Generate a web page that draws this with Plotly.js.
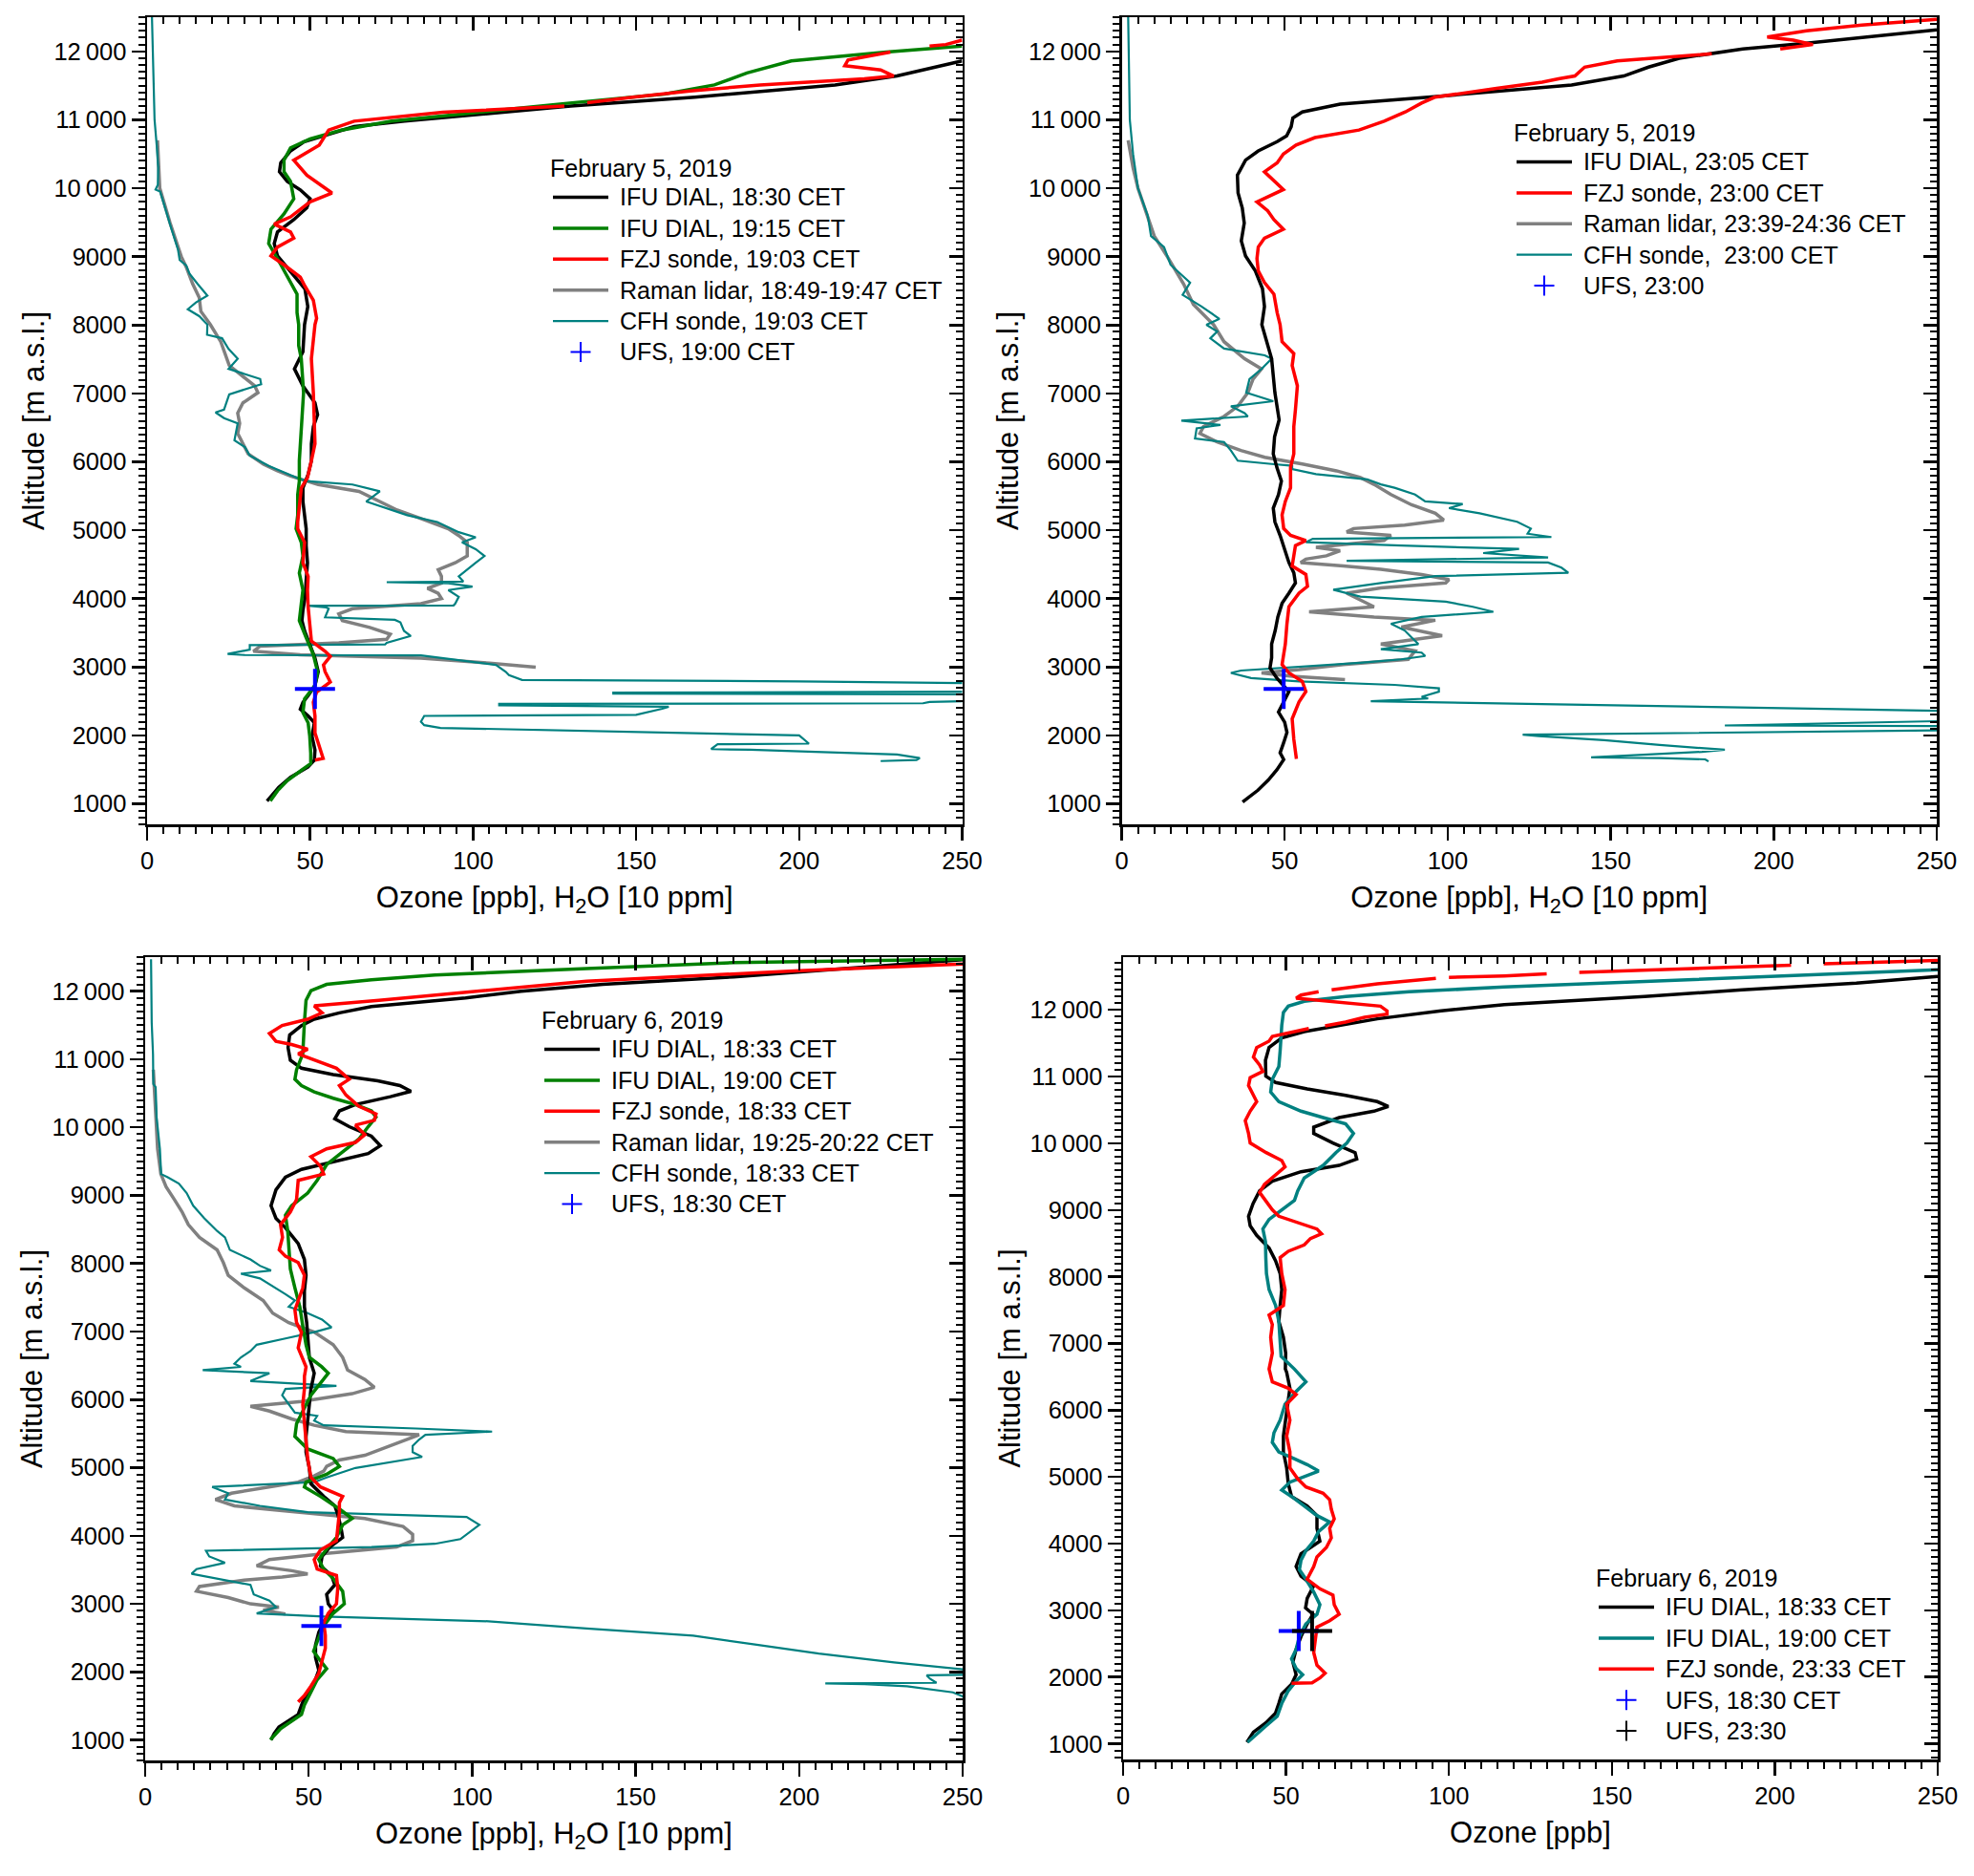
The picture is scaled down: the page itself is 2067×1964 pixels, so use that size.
<!DOCTYPE html>
<html>
<head>
<meta charset="utf-8">
<script src="https://cdn.plot.ly/plotly-3.0.1.min.js"></script>
<style>
  html, body { margin: 0; padding: 0; background: #fff; }
  #chart { width: 2067px; height: 1964px; }
</style>
</head>
<body>
<div id="chart"></div>
<script>
// Data: each profile is a list of [altitude m a.s.l., value]
// (ozone in ppb, H2O in units of 10 ppm). null marks a gap in the record.

// --- February 5, 2019, evening ---
const feb5Dial1830 = [
  [11860,250],[11640,230],[11510,211],[11330,168],[11200,130],[11110,108],[10980,79],[10900,63.5],
  [10760,53.8],[10675,48],[10545,44],[10370,41],[10240,40.6],[10100,43],[9975,47],[9845,50],[9713,49],
  [9540,45],[9360,40],[9190,39],[9010,40],[8790,44],[8530,48.4],[8270,49.3],[8006,48.3],[7608,47.8],
  [7359,45.2],[7110,47.8],[6862,51.5],[6688,52.3],[6513,51],[6265,50.4],[6016,50.4],[5817,49.4],
  [5618,47.8],[5419,47.8],[5220,48.3],[5021,48.8],[4772,48.8],[4523,49.2],[4274,48.8],[4026,48.5],
  [3827,47.8],[3678,47.5],[3528,48.3],[3330,49.9],[3131,51.5],[2931,52.5],[2732,51.5],[2583,49.4],
  [2484,47.8],[2384,47],[2285,49.4],[2185,51.3],[1986,50.6],[1787,51.5],[1638,51.3],[1538,49.4],
  [1389,44],[1240,40.4],[1091,37.8],[1041,36.8]
];
const feb5Dial1915 = [
  [12077,250],[11990,226.7],[11860,197.6],[11685,184],[11510,174],[11375,158.7],[11245,129.6],
  [11110,102],[10980,75],[10850,59.6],[10720,50],[10590,44],[10410,42],[10240,42],[10100,44],[9845,45],
  [9625,42],[9400,38],[9190,37.3],[8970,40],[8710,43],[8450,46],[8180,46],[8006,46.5],[7700,46.5],
  [7508,47.3],[7011,48],[6513,47.3],[6016,46.7],[5718,46.7],[5518,46.2],[5220,46.2],[5021,45.7],
  [4822,47.3],[4623,47.8],[4374,46.7],[4125,47.8],[3926,47.3],[3678,46.7],[3429,48.8],[3180,51],
  [2931,52.3],[2732,51.5],[2533,48.3],[2335,47.8],[2185,49.4],[1986,49.9],[1737,50.2],[1588,50.2],
  [1489,47.3],[1339,43],[1190,40],[1041,37.8]
];
const feb5Fzj1903 = [
  [12165,250],[12100,245],[12077,240],[12050,null],[11990,228],[11875,215],[11790,214],[11730,225],
  [11640,229],[11600,220],[11510,188],[11420,166.5],[11330,149],[11250,135],[11225,null],[11200,128],
  [11110,90.7],[10980,63.5],[10850,55.7],[10630,52.8],[10500,48],[10410,45],[10190,49],[10060,52.8],
  [9930,56.7],[9800,50],[9580,44],[9475,39],[9360,44],[9270,45],[9140,40],[9010,38],[8880,42],
  [8700,47],[8570,48.4],[8360,51],[8100,52],[8006,51.5],[7757,51],[7508,50.4],[7011,51],[6513,51.5],
  [6265,51.5],[6016,50.4],[5767,49.2],[5618,47.3],[5369,46.7],[5120,46.2],[5021,46.2],[4822,48.3],
  [4523,47.8],[4324,49.4],[4125,49.2],[3877,49.4],[3628,49.9],[3379,50.4],[3230,54.6],[3155,56.2],
  [3031,54.1],[2931,54.6],[2782,56.2],[2633,52],[2484,51],[2285,51.5],[2036,51.5],[1887,52.5],
  [1737,53.6],[1663,54],[1638,51.5]
];
const feb5Raman = [
  [10700,3.2],[10300,3.5],[10000,3.9],[9500,7],[9000,10.5],[8850,12],[8600,14],[8400,16],[8200,16.5],
  [8006,19.4],[7757,22.6],[7409,25.2],[7110,33],[7011,34],[6862,29.4],[6712,27.8],[6563,28.4],
  [6414,27.8],[6265,29.4],[6116,31],[5966,35.7],[5867,40],[5792,44],[5668,52.5],[5568,65],[5419,71.4],
  [5295,76.7],[5170,84],[5021,92.4],[4921,95.6],[4822,98.2],[4623,98.2],[4523,94.5],[4424,89.3],
  [4324,90.3],[4225,90.3],[4150,86],[4076,89.3],[4001,90.3],[3926,84],[3852,63],[3777,58.8],
  [3678,59.9],[3578,68.3],[3479,74.6],[3404,73.5],[3354,58.8],[3305,34.7],[3230,32.6],[3180,47],
  [3131,84],[3056,105],[2996,119.2]
];
const feb5Cfh = [
  [12500,1.5],[12000,1.8],[11500,2],[11000,2.3],[10600,3],[10300,3.4],[10050,3.3],[9980,2.6],[9950,4],
  [9700,5.5],[9400,7.5],[9100,9.5],[8950,10],[8870,12],[8750,13],[8600,15.5],[8430,18.5],[8330,15],
  [8230,12.5],[8130,16],[8006,18.5],[7857,18.4],[7807,23],[7650,25],[7508,27.8],[7359,25],[7210,34.7],
  [7135,35],[6986,25.2],[6762,23.6],[6722,21],[6638,23.6],[6563,27.8],[6314,26.8],[6215,30],[6091,31.5],
  [5941,37.3],[5767,46],[5718,48.8],[5668,63],[5568,71.4],[5419,67.2],[5369,70.4],[5220,79.8],[5120,89],
  [4971,95.6],[4897,100.8],[4822,96.6],[4722,100.8],[4623,103.5],[4523,100.8],[4324,95.6],[4250,97],
  [4240,73.5],[4225,92.4],[4175,99.8],[4125,92.4],[4026,95.6],[3926,94.5],[3900,94],[3897,49.4],
  [3870,55],[3852,55.7],[3727,54.6],[3690,76],[3653,77.7],[3528,78.8],[3454,80.9],[3354,73.5],[3330,73],
  [3320,31.5],[3255,31.5],[3190,24.7],[3175,30],[3170,84],[3031,107],[2931,110],[2882,111],[2810,115],
  [2790,200],[2760,262],[2640,262],[2625,143],[2610,143],[2600,262],[2510,262],[2490,240],[2470,238],
  [2460,108],[2440,108],[2420,160],[2390,158],[2300,150],[2285,85],[2200,84],[2150,85],[2110,90],
  [2000,200],[1880,203],[1870,175],[1800,173],[1790,185],[1760,205],[1720,230],[1670,237],[1640,236],
  [1625,225]
];
const feb5Ufs1900 = [[2680,51.5]];

// --- February 5, 2019, night ---
const feb5Dial2305 = [
  [12315,250],[12210,229],[12120,210],[12035,190.5],[11900,171],[11770,161.6],[11640,154],[11510,138],
  [11420,117],[11330,94],[11230,67],[11115,55.4],[11025,52.5],[10900,52],[10765,50.6],[10680,47.7],
  [10545,41.9],[10410,38],[10190,35.5],[9930,35.7],[9710,37],[9490,37.6],[9230,36.7],[9010,38],
  [8790,41],[8530,43.2],[8270,43.8],[8004,43],[7756,44.5],[7507,46],[7259,46.5],[7011,47],[6613,48.3],
  [6365,46.9],[6117,46.5],[5918,47.6],[5719,49],[5520,48.1],[5322,46.5],[5123,47],[4924,48.6],
  [4726,50],[4527,51.3],[4378,52.8],[4229,53.3],[4080,51.3],[3931,49.2],[3732,47.9],[3534,47.1],
  [3335,46],[3136,46],[2987,45.5],[2838,47.6],[2640,51.3],[2491,49.7],[2341,48.1],[2193,50],
  [2044,50.7],[1895,49.7],[1746,48.6],[1646,49.7],[1497,47.6],[1348,45],[1199,41.8],[1025,37.1]
];
const feb5Fzj2300 = [
  [12470,250],[12385,227],[12300,210],[12210,198],[12165,206],[12100,212],[12035,202],[12000,null],
  [11965,181],[11860,152],[11770,142],[11640,139],[11600,134],[11550,129],[11460,115],[11330,96],
  [11245,92],[11115,87],[10980,80.5],[10850,72.8],[10740,59.3],[10630,53.5],[10500,49.6],[10370,47.7],
  [10240,43.8],[10110,46.7],[9980,49.6],[9800,41.5],[9670,44.8],[9540,46.7],[9400,49.6],[9270,43.8],
  [9140,41.9],[8970,41.5],[8790,41.9],[8620,43.8],[8450,46.7],[8180,47.7],[8004,48.6],[7756,49.2],
  [7582,52.8],[7408,52.3],[7110,53.9],[6762,53.3],[6514,52.8],[6117,52.8],[5918,51.8],[5620,51.8],
  [5421,50.2],[5223,49.2],[5024,49.7],[4924,51.8],[4850,56.5],[4775,53.3],[4626,52.8],[4477,52.3],
  [4353,56.5],[4180,57],[4080,54.4],[3881,51.3],[3633,50.7],[3335,50.2],[3037,49.2],[2913,51.3],
  [2789,55.4],[2640,56.5],[2491,54.4],[2242,52.3],[1944,52.8],[1746,53.3],[1656,53.6]
];
const feb5RamanNight = [
  [10700,2],[10300,3.5],[10000,5],[9600,8],[9300,10],[9000,14],[8600,19],[8300,22],[8004,28.2],
  [7756,31.4],[7507,37.7],[7358,42.9],[7209,40.3],[7011,38.7],[6812,35.6],[6663,31.4],[6514,25.1],
  [6415,24],[6290,29.3],[6166,36.6],[6067,43.9],[5968,55.4],[5868,65.9],[5769,73.2],[5670,77.4],
  [5521,82.6],[5371,88.9],[5247,96.2],[5148,98.8],[5073,86.8],[5024,71.1],[4974,69],[4925,82.6],
  [4850,80.5],[4751,59.6],[4701,67],[4626,62.8],[4577,56.5],[4527,54.9],[4477,68],[4428,79.5],
  [4353,92],[4279,100.4],[4229,99.4],[4155,79.5],[4080,69],[3981,73.2],[3881,77.4],[3807,57.5],
  [3732,77.4],[3683,96.2],[3583,85.8],[3459,98.3],[3335,79.5],[3236,90],[3112,87.9],[3037,68],
  [2962,54.4],[2913,42.9],[2863,52.3],[2814,68.5]
];
const feb5CfhNight = [
  [12500,2],[12000,2.2],[11000,2.5],[10500,3.5],[10000,5],[9600,8],[9300,9],[9140,13],[8880,15],
  [8620,21],[8440,18.7],[8270,24.5],[8090,30],[8004,26],[7905,29.3],[7805,27.2],[7656,31.4],[7557,43.9],
  [7507,46],[7358,42.9],[7209,39.2],[7011,38.2],[6886,46.5],[6812,33.5],[6713,37.7],[6663,38.7],
  [6603,18.3],[6539,30.3],[6489,23],[6340,22.5],[6290,31.4],[6166,33.5],[6017,35.6],[5968,46],
  [5943,52.3],[5893,52.3],[5819,59.6],[5744,75.3],[5670,79.5],[5620,83.7],[5521,90],[5421,93.1],
  [5382,104.6],[5322,100.4],[5247,109.8],[5123,121.3],[5024,125.5],[4949,124.5],[4900,131.8],
  [4875,58.6],[4825,56.5],[4775,85.8],[4726,121.9],[4666,110.9],[4602,130.8],[4552,69],[4527,130.8],
  [4453,134.9],[4378,137],[4328,96.2],[4229,79.5],[4130,64.9],[4030,73.2],[3956,99.4],[3881,107.7],
  [3807,114],[3732,92],[3633,82.6],[3534,86.8],[3434,88.9],[3335,91],[3260,79.5],[3211,92],[3161,93.1],
  [3112,85.8],[3062,73.2],[3012,57.5],[2948,36.6],[2913,33.5],[2838,39.7],[2789,54.4],[2739,83.7],
  [2689,97.3],[2640,97.3],[2565,92],[2540,94],[2500,76.4],[2430,164],[2360,250],[2340,262],[2220,262],
  [2145,185],[2135,262],[2080,262],[2010,123],[1990,128],[1930,148],[1860,165],[1790,185],[1760,178],
  [1700,150],[1680,144],[1670,165],[1650,179],[1620,180]
];
const feb5Ufs2300 = [[2680,49.7]];

// --- February 6, 2019 ---
const feb6Dial1833 = [
  [12460,250],[12350,220],[12210,180],[12100,140],[12000,115],[11900,98],[11774,69.2],[11681,59.4],
  [11588,51.7],[11495,47.8],[11356,44.2],[11170,43.7],[10984,44.4],[10868,47.8],[10775,57.5],
  [10683,71.1],[10613,77.9],[10529,81.3],[10450,75],[10334,64.3],[10241,59.4],[10125,58],[10009,62.4],
  [9870,69.2],[9731,71.9],[9615,68.2],[9498,57.5],[9382,47.8],[9266,42.9],[9081,40],[8848,38.5],
  [8663,40],[8524,42.9],[8291,46.8],[8059,48.7],[7827,49.2],[7595,48.7],[7363,48.7],[7131,49.4],
  [6898,49.7],[6620,50.2],[6389,51.7],[6157,50.7],[5925,50.2],[5692,49.7],[5460,49.2],[5228,49.2],
  [4996,50.2],[4764,50.7],[4578,54.6],[4439,58],[4300,59],[4114,59.9],[3975,60.4],[3835,56.5],
  [3696,54.1],[3557,53.6],[3417,57],[3278,58],[3139,55.5],[3000,56],[2907,57.5],[2767,55],[2582,53.1],
  [2396,52.1],[2210,52.1],[2024,53.1],[1839,51.7],[1700,49.7],[1560,48.2],[1374,46.8],[1282,43.9],
  [1189,40.9],[1096,39.5],[1003,38.5]
];
const feb6Dial1900 = [
  [12470,250],[12420,180],[12331,135],[12238,88.6],[12168,69.2],[12099,55.5],[12006,50.7],[11866,49.2],
  [11541,48.7],[11077,48.2],[10845,46.3],[10706,45.8],[10613,47.8],[10520,51.7],[10427,57.5],
  [10334,64.3],[10241,69.2],[10149,70.6],[10009,68.2],[9824,65.3],[9638,60.4],[9452,55.5],[9220,52.6],
  [9034,49.7],[8848,44.8],[8709,42.9],[8477,43.6],[8199,43.9],[7920,44.4],[7641,45.8],[7363,47.3],
  [7084,48.2],[6806,49.2],[6621,50.2],[6482,54],[6389,56],[6250,53.6],[6064,50.7],[5878,48.7],
  [5646,46.3],[5460,45.8],[5274,49.7],[5135,57.5],[5019,59.4],[4903,55.5],[4787,49.2],[4717,48.7],
  [4578,53.6],[4393,59.4],[4253,63.3],[4160,60.4],[3975,58.5],[3835,56],[3650,53.1],[3510,54.6],
  [3371,57.5],[3185,60.4],[3000,60.9],[2860,57.5],[2675,54.6],[2442,52.6],[2303,51.5],[2164,53.6],
  [2048,55.5],[1885,52.6],[1700,50.7],[1514,48.7],[1374,47.8],[1282,44.8],[1166,41.4],[1003,38.3]
];
const feb6Fzj1833 = [
  [12400,250],[12300,200],[12145,135],[12006,104.5],[11866,71.5],[11783,51.7],[11681,54.1],[11588,49.7],
  [11495,41.9],[11379,38],[11263,40],[11216,44.8],[11147,49.7],[11077,46.8],[10984,51.7],[10868,58.5],
  [10706,62.4],[10613,59.4],[10474,61.4],[10311,65.3],[10195,70.6],[10102,70.1],[10032,64.3],
  [9893,67.2],[9777,64.3],[9684,55.5],[9568,50.7],[9429,53.6],[9313,54.6],[9220,46.8],[8941,46.3],
  [8756,44.4],[8570,41.4],[8384,42],[8199,41],[8106,42.9],[8013,46.8],[7827,48.7],[7641,48.2],
  [7316,45.8],[7131,46.3],[6991,47.8],[6759,46.8],[6481,49.2],[6341,48.7],[6157,48.7],[5925,48.2],
  [5692,48.7],[5414,49.2],[5135,49.7],[4857,50.7],[4717,53.6],[4578,60.4],[4485,59.4],[4346,59.4],
  [4160,58.9],[3928,58.5],[3789,53.6],[3650,51.7],[3510,52.6],[3417,58.5],[3232,58.9],[3000,58.5],
  [2860,56],[2721,54.6],[2535,55.1],[2349,55.1],[2164,54.1],[1978,53.1],[1792,50.7],[1653,48.7],
  [1560,46.8]
];
const feb6Raman = [
  [10845,2.5],[10613,2.8],[10149,3.2],[9684,3.8],[9313,4.8],[9127,6.4],[8941,8.9],[8756,11.3],
  [8570,13.2],[8384,16.6],[8199,22],[8013,23.9],[7827,25.4],[7641,30.3],[7456,36.1],[7270,39],
  [7131,43.9],[6991,51.7],[6806,57.5],[6621,60.4],[6435,61.9],[6296,67.2],[6180,70.1],[6087,63.3],
  [5971,47.8],[5901,32.2],[5832,38],[5716,44.8],[5623,51.7],[5530,61.4],[5484,83.8],[5414,79.9],
  [5298,73],[5182,67.2],[5112,59.4],[5019,55.5],[4950,54.6],[4880,51.7],[4787,46.8],[4717,38],
  [4625,26.4],[4532,21.5],[4439,27.3],[4369,41.9],[4323,51.7],[4253,67.2],[4137,78.9],[4021,81.8],
  [3928,81.8],[3835,76.9],[3742,55.5],[3650,38],[3557,34.1],[3487,44.8],[3441,49.7],[3394,41.9],
  [3348,30.3],[3255,16.6],[3185,15.7],[3092,25.4],[3000,32.2],[2953,40.9],[2907,36.1],[2851,42.9]
];
const feb6Cfh = [
  [12470,1.8],[11541,2],[11077,2.4],[10636,2.5],[10590,3.2],[10149,3.5],[9684,4.5],[9313,4.9],
  [9266,6.9],[9174,10.3],[9034,12.7],[8848,14.7],[8663,18.1],[8477,22],[8384,24.4],[8199,25.9],
  [8059,32.2],[7966,35.1],[7897,38.5],[7850,29.3],[7781,35.1],[7641,40],[7548,42.9],[7456,45.8],
  [7363,43.9],[7270,49.7],[7177,54.1],[7061,57],[6991,51.7],[6898,42.9],[6806,34.1],[6713,32.2],
  [6620,29.3],[6527,27.3],[6481,29.3],[6434,17.6],[6388,38],[6273,32.2],[6203,58.5],[6157,42.9],
  [6064,41.9],[5808,45.8],[5762,52.6],[5692,51.7],[5623,54.6],[5576,82.8],[5530,106.1],[5484,85.7],
  [5414,83.8],[5321,81.8],[5228,81.8],[5158,84.7],[5042,69.2],[4996,64.3],[4857,55.5],[4787,51.7],
  [4717,20.5],[4625,25.4],[4532,24.4],[4439,35.1],[4346,49.7],[4276,98.3],[4160,102.2],[4091,100.3],
  [3951,96.4],[3882,88.6],[3835,69.2],[3780,18.6],[3696,19.6],[3603,24.4],[3510,15.7],[3441,14.2],
  [3371,21.5],[3278,32.2],[3139,33.2],[3046,38],[2953,40],[2860,34.1],[2814,54.6],[2791,74],[2744,105],
  [2637,135],[2532,167.6],[2400,187],[2270,206],[2140,229],[2050,249],[2010,256],[1960,256],[1950,239],
  [1900,240],[1840,242],[1832,208],[1820,220],[1790,233],[1700,247],[1660,249],[1600,252],[1530,250]
];
const feb6Ufs1830 = [[2674,53.9]];

// --- February 6, 2019, ozone only ---
const feb6Dial1833b = [
  [12500,250],[12400,225],[12300,190],[12200,160],[12079,117],[11984,97.6],[11865,78],[11769,66.3],
  [11674,55.6],[11578,48.7],[11435,44.8],[11244,43.7],[11006,43.8],[10910,46.8],[10815,56.5],
  [10719,68.3],[10624,78],[10552,81.4],[10481,77],[10385,66.3],[10242,58.5],[10147,58.5],[10004,64.4],
  [9860,71.2],[9765,71.7],[9669,66.3],[9574,54.6],[9431,45.8],[9288,41.9],[9097,39.9],[8906,38.5],
  [8763,39],[8620,41],[8429,44.8],[8238,46.8],[8047,48.2],[7808,48.7],[7570,48.2],[7331,47.8],
  [7093,49.2],[6854,49.9],[6616,49.8],[6567,50.2],[6329,51.2],[6090,50.5],[5852,49.7],[5613,49.2],
  [5374,49.2],[5136,50.2],[4897,50.7],[4706,51.7],[4563,56.5],[4420,59.5],[4229,59.5],[4038,60.4],
  [3847,54.6],[3657,53.1],[3513,54.6],[3370,58.5],[3179,56.5],[3036,56],[2941,58.3],[2798,56.5],
  [2607,54.6],[2416,53.1],[2225,52.1],[2034,53.1],[1891,51.7],[1748,48.7],[1605,47.8],[1461,46.8],
  [1318,43.9],[1175,40],[1022,38]
];
const feb6Dial1900b = [
  [12600,250],[12500,200],[12420,160],[12342,117],[12270,87.8],[12199,68.3],[12127,55.6],[12055,50.7],
  [11960,49.2],[11769,48.7],[11387,48.2],[11149,47.8],[10958,45.8],[10767,45.3],[10624,47.8],
  [10481,54.6],[10385,61.4],[10290,68.3],[10147,70.7],[10004,68.7],[9860,65.3],[9669,61.4],[9479,55.6],
  [9288,53.6],[9145,52.6],[9002,48.7],[8858,44.8],[8715,42.9],[8524,43.7],[8286,43.8],[8047,44],
  [7808,44.8],[7570,46.8],[7331,47.8],[7093,48.2],[6806,48.5],[6615,52.6],[6424,56.1],[6281,53.1],
  [6090,49.7],[5852,48.2],[5661,46.3],[5518,45.8],[5374,47.8],[5279,52.2],[5184,56.5],[5088,60],
  [5017,56.5],[4921,51.2],[4802,48.7],[4706,51.7],[4563,55.6],[4420,59.5],[4325,63.4],[4181,60],
  [4038,58.5],[3895,56.1],[3752,54.6],[3609,54.1],[3466,56.1],[3275,58.5],[3084,60.4],[2941,59.5],
  [2798,56.1],[2607,54.1],[2416,53.1],[2273,51.7],[2130,53.1],[2034,55.1],[1939,53.1],[1795,50.7],
  [1605,48.7],[1414,47.3],[1270,43.9],[1127,40.4],[1022,38.2]
];
const feb6Fzj2333 = [
  [12740,250],[12690,215],[12680,null],[12670,205],[12560,140],[12550,null],[12540,130],[12509,117],
  [12485,100],[12478,null],[12470,96],[12390,78],[12300,64],[12285,null],[12270,60],[12222,54.6],
  [12175,53.1],[12151,58.5],[12103,68.3],[12055,79],[11984,81],[11936,81],[11888,74.1],[11817,68.3],
  [11760,62],[11740,null],[11720,57],[11674,52.6],[11602,45.8],[11531,44.8],[11435,41],[11292,40],
  [11173,41.9],[11077,42.9],[10982,39],[10863,38.5],[10719,40],[10624,41],[10481,39],[10338,37.5],
  [10147,38.5],[10004,39],[9860,43.9],[9741,48.7],[9646,49.7],[9526,46.8],[9383,43.4],[9264,41.9],
  [9145,43.8],[9002,45.8],[8906,47.8],[8811,53.6],[8715,59.5],[8643,60.9],[8572,57.5],[8477,55.6],
  [8381,50.7],[8286,48.2],[8047,48.7],[7808,49.7],[7570,49.2],[7426,44.8],[7283,45.8],[7093,45.3],
  [6854,45.8],[6616,44.8],[6424,45.8],[6329,50.7],[6234,53.1],[6090,50.2],[5852,51.2],[5613,50.2],
  [5374,51.2],[5136,51.2],[4969,53.6],[4850,56.1],[4754,61.4],[4659,63.4],[4516,63.9],[4372,64.8],
  [4229,63.4],[4086,63.9],[3943,62.4],[3800,59.5],[3657,58.5],[3466,56.5],[3323,60.4],[3227,64.4],
  [3084,64.8],[2941,66.3],[2845,63.4],[2750,59.5],[2559,59],[2368,58.5],[2177,59.5],[2058,62],
  [1986,60.4],[1915,58],[1905,51.7]
];
const feb6Ufs1830b = [[2690,53.9]];
const feb6Ufs2330 = [[2690,58]];

// Axis ranges and labels
const ozoneRange = [0, 250];
const altRangeH2O = [700, 12500];
const altRangeO3 = [765, 12790];
const titleOzoneH2O = "Ozone [ppb], H<sub>2</sub>O [10 ppm]";
const titleOzone = "Ozone [ppb]";
const titleAltitude = "Altitude [m a.s.l.]";

// Styles
const FONT = "Liberation Sans, Arial, sans-serif";
const BLACK = "#000000";
const GREEN = "#008000";
const RED = "#ff0000";
const GRAY = "#808080";
const TEAL = "#008080";
const BLUE = "#0000ff";
const LEGEND_TEXT = 25;     // drawn size of the legend texts
const LEGEND_ROW = 22.6;    // size that sets the row pitch of the legends

// legend text at its drawn size; the leading no-break space opens the gap after the line sample
function legendLabel(text) {
  return '<span style="font-size:' + LEGEND_TEXT + 'px">\u00a0' + text + "</span>";
}

function axisIds(n) {
  const s = n === 1 ? "" : String(n);
  return { x: "x" + s, y: "y" + s };
}

function profile(pairs, name, color, width, n, legend, rank) {
  const ids = axisIds(n);
  return {
    type: "scatter",
    mode: "lines",
    x: pairs.map((p) => p[1]),
    y: pairs.map((p) => p[0]),
    name: legendLabel(name),
    line: { color: color, width: width },
    xaxis: ids.x, yaxis: ids.y,
    legend: legend, legendrank: rank,
    hoverinfo: "skip",
  };
}

// big cross in the panel, small thin cross in the legend
function station(pairs, name, color, n, legend, rank) {
  const ids = axisIds(n);
  const onPlot = {
    type: "scatter", mode: "markers",
    x: pairs.map((p) => p[1]),
    y: pairs.map((p) => p[0]),
    marker: { symbol: "cross-thin", size: 30, color: color, line: { color: color, width: 4 } },
    xaxis: ids.x, yaxis: ids.y,
    showlegend: false, hoverinfo: "skip",
  };
  const inLegend = {
    type: "scatter", mode: "markers",
    x: [null], y: [null],
    name: legendLabel(name),
    marker: { symbol: "cross-thin", size: 15, color: color, line: { color: color, width: 2 } },
    xaxis: ids.x, yaxis: ids.y,
    legend: legend, legendrank: rank, hoverinfo: "skip",
  };
  return [onPlot, inLegend];
}

// Empty traces so that the mirrored tick axes (top / right) get drawn
function mirrorHolder(xa, ya) {
  return { type: "scatter", mode: "lines", x: [], y: [], xaxis: xa, yaxis: ya, showlegend: false, hoverinfo: "skip" };
}

const traces = [
  // panel 1
  profile(feb5Raman, "Raman lidar, 18:49-19:47 CET", GRAY, 3.5, 1, "legend", 4),
  profile(feb5Cfh, "CFH sonde, 19:03 CET", TEAL, 2.2, 1, "legend", 5),
  profile(feb5Dial1830, "IFU DIAL, 18:30 CET", BLACK, 3.5, 1, "legend", 1),
  profile(feb5Dial1915, "IFU DIAL, 19:15 CET", GREEN, 3.5, 1, "legend", 2),
  profile(feb5Fzj1903, "FZJ sonde, 19:03 CET", RED, 3.5, 1, "legend", 3),
  ...station(feb5Ufs1900, "UFS, 19:00 CET", BLUE, 1, "legend", 6),
  // panel 2
  profile(feb5RamanNight, "Raman lidar, 23:39-24:36 CET", GRAY, 3.5, 2, "legend2", 3),
  profile(feb5CfhNight, "CFH sonde,  23:00 CET", TEAL, 2.2, 2, "legend2", 4),
  profile(feb5Dial2305, "IFU DIAL, 23:05 CET", BLACK, 3.5, 2, "legend2", 1),
  profile(feb5Fzj2300, "FZJ sonde, 23:00 CET", RED, 3.5, 2, "legend2", 2),
  ...station(feb5Ufs2300, "UFS, 23:00", BLUE, 2, "legend2", 5),
  // panel 3
  profile(feb6Raman, "Raman lidar, 19:25-20:22 CET", GRAY, 3.5, 3, "legend3", 4),
  profile(feb6Cfh, "CFH sonde, 18:33 CET", TEAL, 2.2, 3, "legend3", 5),
  profile(feb6Dial1833, "IFU DIAL, 18:33 CET", BLACK, 3.5, 3, "legend3", 1),
  profile(feb6Dial1900, "IFU DIAL, 19:00 CET", GREEN, 3.5, 3, "legend3", 2),
  profile(feb6Fzj1833, "FZJ sonde, 18:33 CET", RED, 3.5, 3, "legend3", 3),
  ...station(feb6Ufs1830, "UFS, 18:30 CET", BLUE, 3, "legend3", 6),
  // panel 4
  profile(feb6Dial1833b, "IFU DIAL, 18:33 CET", BLACK, 3.5, 4, "legend4", 1),
  profile(feb6Dial1900b, "IFU DIAL, 19:00 CET", TEAL, 3.5, 4, "legend4", 2),
  profile(feb6Fzj2333, "FZJ sonde, 23:33 CET", RED, 3.5, 4, "legend4", 3),
  ...station(feb6Ufs1830b, "UFS, 18:30 CET", BLUE, 4, "legend4", 4),
  ...station(feb6Ufs2330, "UFS, 23:30", BLACK, 4, "legend4", 5),
  // mirrored tick axes
  mirrorHolder("x5", "y"), mirrorHolder("x6", "y2"), mirrorHolder("x7", "y3"), mirrorHolder("x8", "y4"),
  mirrorHolder("x", "y5"), mirrorHolder("x2", "y6"), mirrorHolder("x3", "y7"), mirrorHolder("x4", "y8"),
];

// Layout helpers (pixel boxes of the four panels in the 2067 x 1964 picture)
const W = 2067, H = 1964;
const boxes = [
  { l: 154, r: 1007.5, t: 18, b: 863 },
  { l: 1174.5, r: 2028, t: 18, b: 863 },
  { l: 152, r: 1008, t: 1002, b: 1843 },
  { l: 1176, r: 2029, t: 1002, b: 1842 },
];

const tickFont = { family: FONT, size: 25.5, color: BLACK };
const titleFont = { family: FONT, size: 31, color: BLACK };

function xAxis(i, title) {
  const b = boxes[i];
  return {
    domain: [b.l / W, b.r / W],
    anchor: "y" + (i === 0 ? "" : i + 1),
    range: ozoneRange, dtick: 50, tick0: 0,
    ticks: "outside", ticklen: 14, tickwidth: 2.5, tickcolor: BLACK,
    minor: { ticks: "outside", ticklen: 7, tickwidth: 2, tickcolor: BLACK, dtick: 5, showgrid: false },
    showline: true, linewidth: 2.5, linecolor: BLACK, mirror: true,
    showgrid: false, zeroline: false, tickfont: tickFont,
    title: { text: title, font: titleFont, standoff: 14 },
  };
}

function yAxis(i, range) {
  const b = boxes[i];
  return {
    domain: [1 - b.b / H, 1 - b.t / H],
    anchor: "x" + (i === 0 ? "" : i + 1),
    range: range, dtick: 1000, tick0: 0,
    exponentformat: "none",
    ticks: "outside", ticklen: 14, tickwidth: 2.5, tickcolor: BLACK,
    minor: { ticks: "outside", ticklen: 7, tickwidth: 2, tickcolor: BLACK, dtick: 100, showgrid: false },
    showline: true, linewidth: 2.5, linecolor: BLACK, mirror: true,
    showgrid: false, zeroline: false, tickfont: tickFont,
    title: { text: titleAltitude, font: titleFont, standoff: 1 },
  };
}

function topTicks(i) {
  return {
    overlaying: "x" + (i === 0 ? "" : i + 1), side: "top",
    anchor: "y" + (i === 0 ? "" : i + 1),
    range: ozoneRange, dtick: 50, tick0: 0,
    ticks: "inside", ticklen: 14, tickwidth: 2.5, tickcolor: BLACK,
    minor: { ticks: "inside", ticklen: 7, tickwidth: 2, tickcolor: BLACK, dtick: 5, showgrid: false },
    showticklabels: false, showline: false, showgrid: false, zeroline: false,
  };
}

function rightTicks(i, range) {
  return {
    overlaying: "y" + (i === 0 ? "" : i + 1), side: "right",
    anchor: "x" + (i === 0 ? "" : i + 1),
    range: range, dtick: 1000, tick0: 0,
    ticks: "inside", ticklen: 14, tickwidth: 2.5, tickcolor: BLACK,
    minor: { ticks: "inside", ticklen: 7, tickwidth: 2, tickcolor: BLACK, dtick: 100, showgrid: false },
    showticklabels: false, showline: false, showgrid: false, zeroline: false,
  };
}

function legendAt(x, yTop, title) {
  return {
    x: x / W, y: 1 - yTop / H, xanchor: "left", yanchor: "top",
    bgcolor: "rgba(0,0,0,0)", borderwidth: 0,
    font: { family: FONT, size: LEGEND_ROW, color: BLACK },
    title: {
      text: '<span style="font-size:' + LEGEND_TEXT + 'px">' + title + "</span>",
      font: { family: FONT, size: LEGEND_ROW, color: BLACK },
    },
    itemwidth: 58, tracegroupgap: 0, traceorder: "normal",
  };
}

const layout = {
  width: W, height: H,
  margin: { l: 0, r: 0, t: 0, b: 0 },
  paper_bgcolor: "#ffffff", plot_bgcolor: "#ffffff",
  separators: ".\u2009",
  font: { family: FONT, color: BLACK },
  showlegend: true,
  xaxis: xAxis(0, titleOzoneH2O), yaxis: yAxis(0, altRangeH2O),
  xaxis2: xAxis(1, titleOzoneH2O), yaxis2: yAxis(1, altRangeH2O),
  xaxis3: xAxis(2, titleOzoneH2O), yaxis3: yAxis(2, altRangeH2O),
  xaxis4: xAxis(3, titleOzone), yaxis4: yAxis(3, altRangeO3),
  xaxis5: topTicks(0), xaxis6: topTicks(1), xaxis7: topTicks(2), xaxis8: topTicks(3),
  yaxis5: rightTicks(0, altRangeH2O), yaxis6: rightTicks(1, altRangeH2O),
  yaxis7: rightTicks(2, altRangeH2O), yaxis8: rightTicks(3, altRangeO3),
  legend: legendAt(574, 156, "February 5, 2019"),
  legend2: legendAt(1583, 119, "February 5, 2019"),
  legend3: legendAt(565, 1048, "February 6, 2019"),
  legend4: legendAt(1669, 1632, "February 6, 2019"),
};

Plotly.newPlot("chart", traces, layout, { staticPlot: true, displayModeBar: false });
</script>
</body>
</html>
